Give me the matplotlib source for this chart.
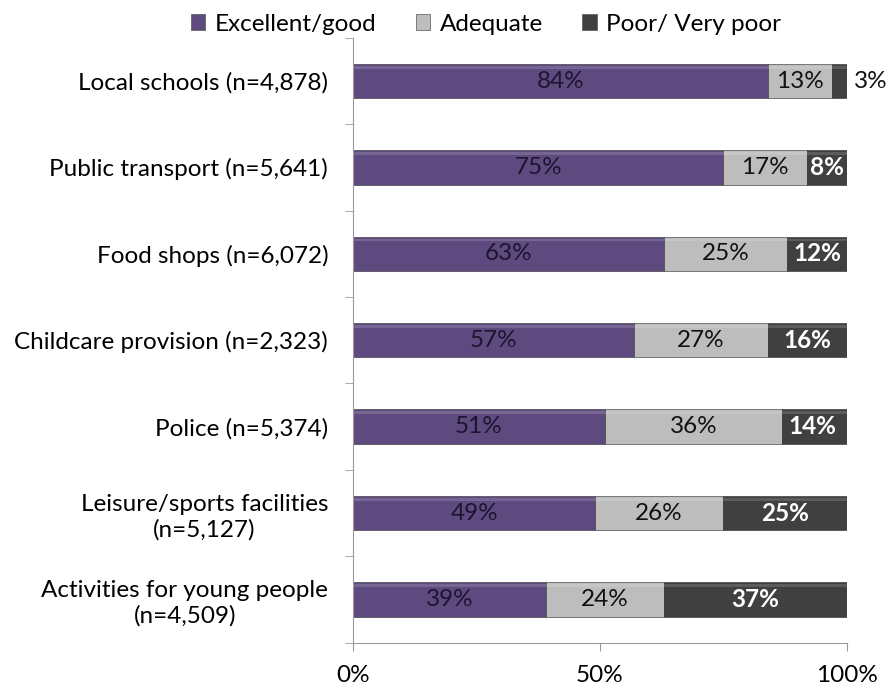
import numpy as np
import matplotlib.pyplot as plt
from matplotlib.patches import Patch

# survey results, top row first
services = ["Local schools (n=4,878)", "Public transport (n=5,641)",
            "Food shops (n=6,072)", "Childcare provision (n=2,323)",
            "Police (n=5,374)", "Leisure/sports facilities\n(n=5,127)",
            "Activities for young people\n(n=4,509)"]
good = [84, 75, 63, 57, 51, 49, 39]
adequate = [13, 17, 25, 27, 36, 26, 24]
poor = [3, 8, 12, 16, 14, 25, 37]
series_names = ["Excellent/good", "Adequate", "Poor/ Very poor"]

plt.rcParams['font.family'] = ['Lato', 'DejaVu Sans']
fs = 17.5

purple = "#5f4a80"
light = "#bdbdbd"
dark = "#404040"

fig = plt.figure(figsize=(8.92, 6.88), dpi=100)
ax = fig.add_axes([0.396, 0.066, 0.553, 0.879])

y = np.arange(len(services))[::-1]
h = 0.4
left = np.zeros(len(services))
for vals, col, name in zip([good, adequate, poor], [purple, light, dark], series_names):
    vals = np.array(vals)
    ax.barh(y, vals, left=left, height=h, color=col, edgecolor="#2a2a2a",
            linewidth=0.4, label=name)
    # soft highlight along the top of each segment
    ax.barh(y + h * 0.40, vals, left=left, height=h * 0.08, color="white",
            alpha=0.15, linewidth=0)
    left += vals

# value labels
for i in range(len(services)):
    ax.text(good[i] / 2, y[i], f"{good[i]}%", ha="center", va="center",
            fontsize=fs, color="#1c1530")
    ax.text(good[i] + adequate[i] / 2, y[i], f"{adequate[i]}%", ha="center",
            va="center", fontsize=fs, color="#111111")
    if poor[i] < 5:
        ax.text(100 + 1.5, y[i], f"{poor[i]}%", ha="left", va="center",
                fontsize=fs, color="#111111")
    else:
        ax.text(100 - poor[i] / 2, y[i], f"{poor[i]}%", ha="center",
                va="center", fontsize=fs, color="white", fontweight="bold")

ax.set_xlim(0, 100)
ax.set_ylim(-0.5, len(services) - 0.5)
ax.set_xticks([0, 50, 100])
ax.set_xticklabels(["0%", "50%", "100%"], fontsize=fs)
ax.set_yticks(y)
ax.set_yticklabels(services, fontsize=fs, linespacing=1.25)
ax.set_yticks(np.arange(-0.5, len(services)), minor=True)
ax.tick_params(axis="y", which="major", length=0, pad=18)
ax.tick_params(axis="y", which="minor", length=6, color="#999999")
ax.tick_params(axis="x", length=6, color="#999999", pad=10)
for lab in ax.get_yticklabels():
    lab.set_multialignment("center")

for s in ["top", "right"]:
    ax.spines[s].set_visible(False)
for s in ["left", "bottom"]:
    ax.spines[s].set_color("#999999")

handles = [Patch(facecolor=c, edgecolor="#555555", linewidth=0.5)
           for c in [purple, light, dark]]
fig.legend(handles, series_names, loc="upper center", ncol=3,
           bbox_to_anchor=(0.545, 1.012), frameon=False, fontsize=fs,
           handlelength=0.6, handleheight=0.6, handletextpad=0.4,
           columnspacing=1.6)

fig.savefig("out.png", dpi=100)
